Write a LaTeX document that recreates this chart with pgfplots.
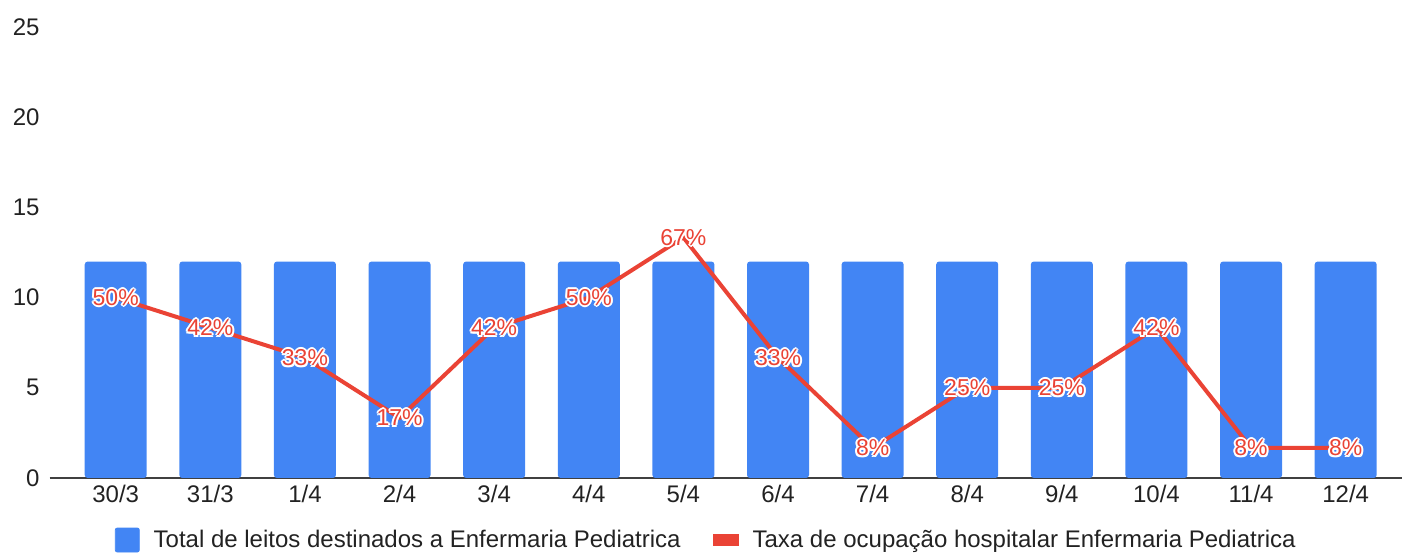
\documentclass[border=0pt]{standalone}
\usepackage{fontspec}
\setmainfont{Liberation Sans}
\usepackage{pgfplots}
\pgfplotsset{compat=1.18}

\definecolor{gblue}{HTML}{4285F4}
\definecolor{gred}{HTML}{EA4335}
\definecolor{txt}{HTML}{222222}

% white halo round the red labels
\newcommand\halo[1]{\begingroup
  \def\h##1##2{\rlap{\kern##1\raisebox{##2}{\textcolor{white}{#1}}}}%
  \h{1bp}{0bp}\h{-1bp}{0bp}\h{0bp}{1bp}\h{0bp}{-1bp}%
  \h{.7bp}{.7bp}\h{-.7bp}{.7bp}\h{.7bp}{-.7bp}\h{-.7bp}{-.7bp}%
  \textcolor{gred}{#1}\endgroup}

\pgfplotsset{
  base/.style={
    scale only axis, width=676bp, height=225.5bp,
    xmin=-0.70, xmax=13.59,
    xtick=data,
    xticklabels={30/3,31/3,1/4,2/4,3/4,4/4,5/4,6/4,7/4,8/4,9/4,10/4,11/4,12/4},
    major tick length=0pt,
    /pgf/number format/assume math mode=true,
    every tick label/.append style={font=\fontsize{12bp}{14bp}\selectfont, text=txt},
  }
}

\begin{document}
\begin{tikzpicture}
\begin{axis}[base,
    ymin=0, ymax=25, ytick={0,5,10,15,20,25},
    axis x line*=bottom, axis y line*=left,
    x axis line style={-, draw=black!75, line width=1bp},
    y axis line style={draw=none},
    yticklabel style={xshift=-1.5bp},
    ybar, bar width=31bp,
  ]
  \addplot[fill=gblue, draw=none, rounded corners=1.5bp] coordinates {
    (0,12) (1,12) (2,12) (3,12) (4,12) (5,12) (6,12)
    (7,12) (8,12) (9,12) (10,12) (11,12) (12,12) (13,12)
  };
\end{axis}
\begin{axis}[base,
    ymin=0, ymax=1.25,
    hide axis,
    legend columns=2,
    legend style={draw=none, fill=none, at={(0.4865,-0.1375)}, anchor=center,
      font=\fontsize{12bp}{14bp}\selectfont, text=txt,
      /tikz/every odd column/.append style={column sep=5bp},
      /tikz/every even column/.append style={column sep=14bp}},
    legend cell align=left,
  ]
  \addlegendimage{legend image code/.code={
      \fill[gblue, rounded corners=1bp] (0bp,-6bp) rectangle (12bp,6bp);}}
  \addlegendentry{Total de leitos destinados a Enfermaria Pediatrica}
  \addplot[gred, line width=2bp, mark=none,
      point meta={y*100},
      nodes near coords={\halo{\pgfmathprintnumber[fixed,precision=0]{\pgfplotspointmeta}\%}},
      every node near coord/.append style={anchor=center,
        font=\fontsize{11.5bp}{13bp}\selectfont},
      legend image code/.code={
        \fill[gred] (0bp,-2bp) rectangle (11bp,2bp);}]
    coordinates {
    (0,0.5000) (1,0.4167) (2,0.3333) (3,0.1667) (4,0.4167) (5,0.5000) (6,0.6667)
    (7,0.3333) (8,0.0833) (9,0.2500) (10,0.2500) (11,0.4167) (12,0.0833) (13,0.0833)
  };
  \addlegendentry{Taxa de ocupação hospitalar Enfermaria Pediatrica}
\end{axis}
\pgfresetboundingbox
\path (-24.75bp,-38bp) rectangle (676.25bp,239bp);
\end{tikzpicture}
\end{document}
